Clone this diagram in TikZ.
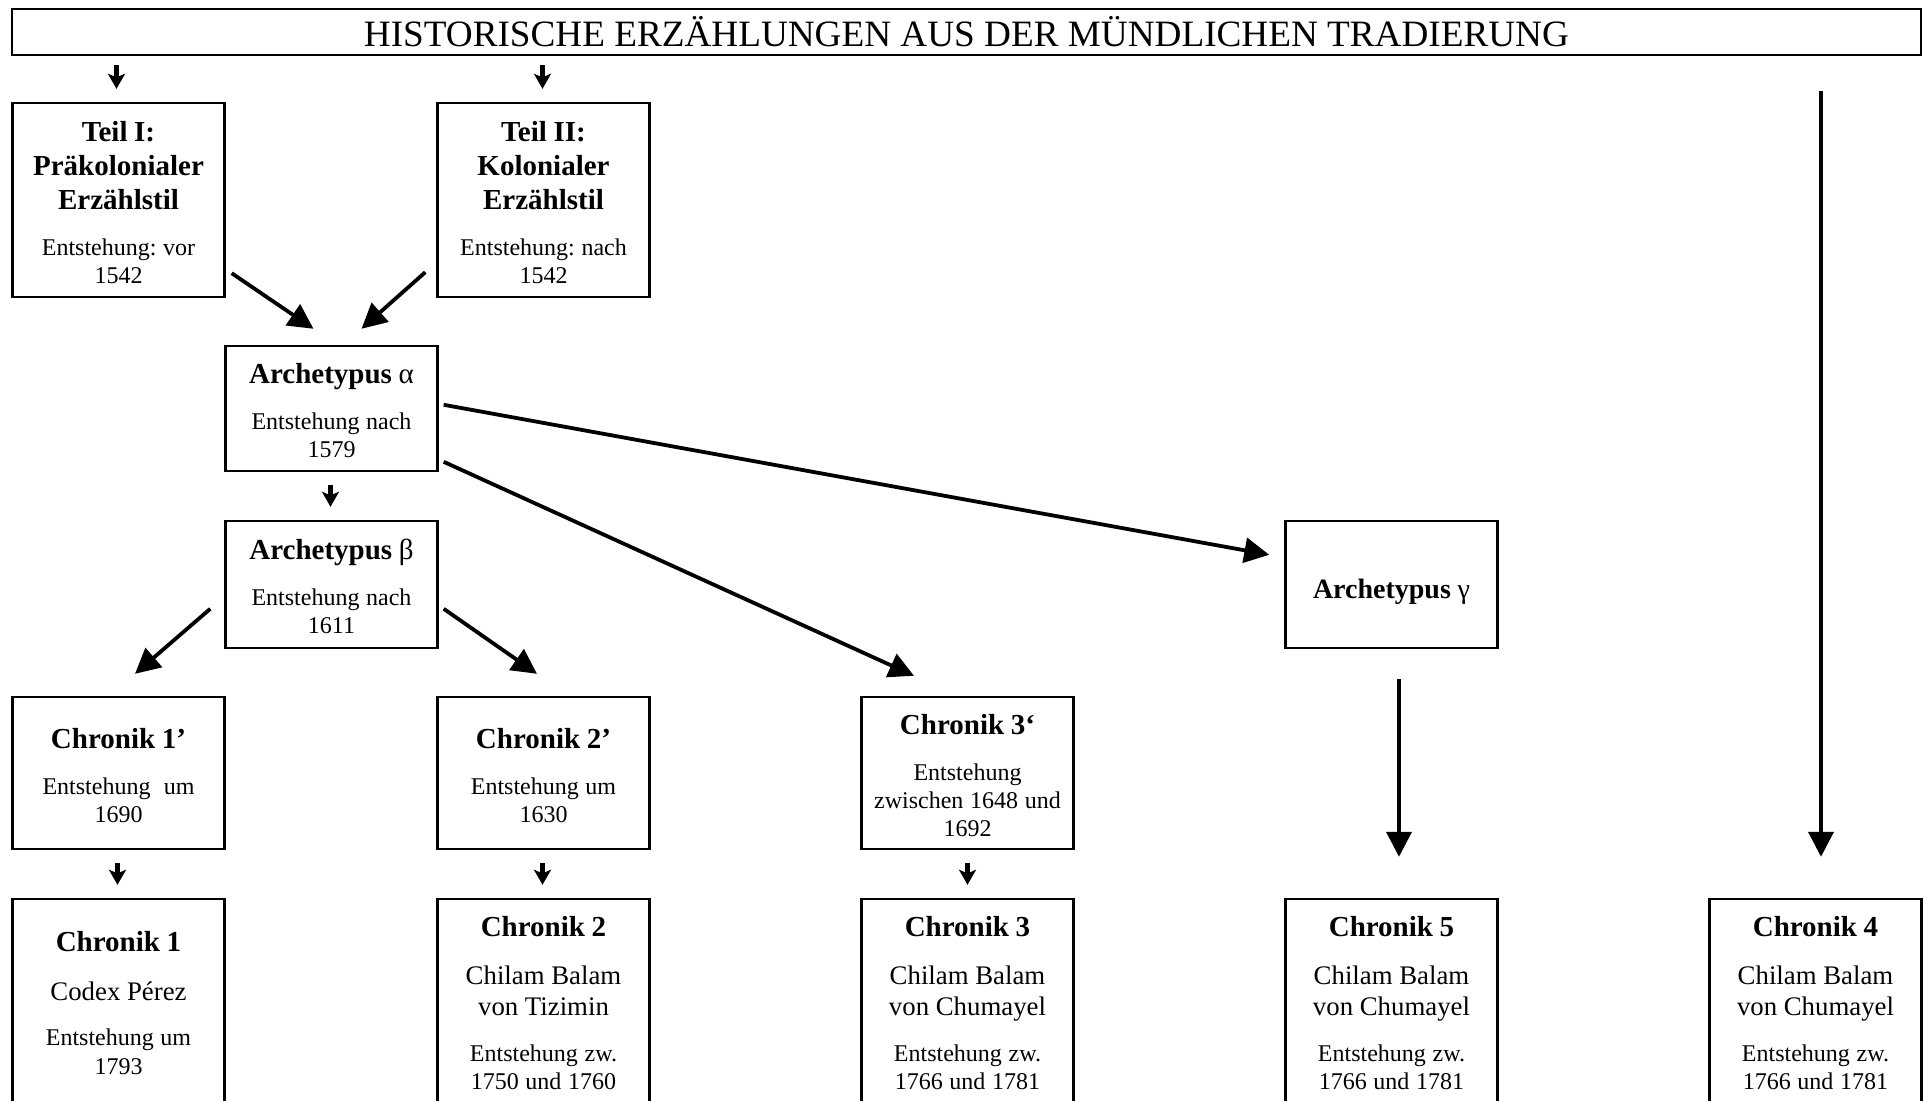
\documentclass[tikz,border=0pt]{standalone}
\usepackage{fontspec}
\setmainfont{Liberation Serif}
\usetikzlibrary{arrows.meta,calc}
\frenchspacing

% type sizes used in the boxes
\newcommand\hd{\fontsize{14.5}{17.2}\selectfont\bfseries}
\newcommand\hdtop{\hd\rule{0pt}{12.6pt}}
\newcommand\bd{\fontsize{12}{14.1}\selectfont\mdseries}
\newcommand\nm{\fontsize{13.4}{15.3}\selectfont\mdseries}
\newcommand\sep{\par\vspace{8.8pt}}

\tikzset{
  box/.style={draw, line width=1.2pt, rectangle, minimum width=106pt,
    text width=100pt, inner sep=0pt, align=center},
  bigarr/.style={line width=1.9pt, -{Triangle[length=12.5pt,width=12.5pt]}},
  smallarr/.style={line width=2.3pt, -{Stealth[length=7.5pt,width=8.5pt,inset=1.8pt]}},
}

\begin{document}
\begin{tikzpicture}[x=0.5pt, y=-0.5pt]
\useasboundingbox (0,0) rectangle (1924,1101);
\clip (0,0) rectangle (1924,1101);

% header
\node[draw, line width=1.2pt, minimum width=954.5pt, minimum height=23pt, inner sep=0pt]
  (title) at (966.5,32) {\fontsize{18.6}{22}\selectfont HISTORISCHE ERZÄHLUNGEN AUS DER MÜNDLICHEN TRADIERUNG};

% first level
\node[box, minimum height=97pt] (teil1) at (118.5,200)
  {\hdtop Teil I:\\Präkolonialer\\Erzählstil\sep\bd Entstehung: vor\\1542\par};
\node[box, minimum height=97pt] (teil2) at (543.5,200)
  {\hdtop Teil II:\\Kolonialer\\Erzählstil\sep\bd Entstehung: nach\\1542\par};

% archetypes
\node[box, minimum height=62.5pt] (alpha) at (331.5,408.5)
  {\hdtop Archetypus {\mdseries α}\sep\bd Entstehung nach\\1579\par};
\node[box, minimum height=63.5pt] (beta) at (331.5,584.5)
  {\hdtop Archetypus {\mdseries β}\sep\bd Entstehung nach\\1611\par};
\node[box, minimum height=63.5pt] (gamma) at (1391.5,584.5)
  {\fontsize{14}{16.8}\selectfont\bfseries\rule{0pt}{17.2pt}Archetypus {\mdseries γ}\par};

% lost chronicles
\node[box, minimum height=76pt] (c1p) at (118.5,773)
  {\hdtop Chronik 1’\sep\bd Entstehung~ um\\1690\par};
\node[box, minimum height=76pt] (c2p) at (543.5,773)
  {\hdtop Chronik 2’\sep\bd Entstehung um\\1630\par};
\node[box, minimum height=76pt] (c3p) at (967.5,773)
  {\hdtop Chronik 3‘\sep\bd Entstehung\\zwischen 1648 und\\1692\par};

% extant chronicles
\node[box, minimum height=104pt] (c1) at (118.5,1003)
  {\hd Chronik 1\sep\nm Codex Pérez\sep\bd Entstehung um\\1793\par};
\node[box, minimum height=104pt] (c2) at (543.5,1003)
  {\hd Chronik 2\sep\nm Chilam Balam\\von Tizimin\sep\bd Entstehung zw.\\1750 und 1760\par};
\node[box, minimum height=104pt] (c3) at (967.5,1003)
  {\hd Chronik 3\sep\nm Chilam Balam\\von Chumayel\sep\bd Entstehung zw.\\1766 und 1781\par};
\node[box, minimum height=104pt] (c5) at (1391.5,1003)
  {\hd Chronik 5\sep\nm Chilam Balam\\von Chumayel\sep\bd Entstehung zw.\\1766 und 1781\par};
\node[box, minimum height=104pt] (c4) at (1815.5,1003)
  {\hd Chronik 4\sep\nm Chilam Balam\\von Chumayel\sep\bd Entstehung zw.\\1766 und 1781\par};

% short vertical arrows
\draw[smallarr] ($(title.south -| teil1.north)+(-2,9)$) -- ($(teil1.north)+(-2,-13)$);
\draw[smallarr] ($(title.south -| teil2.north)+(-1,9)$) -- ($(teil2.north)+(-1,-13)$);
\draw[smallarr] ($(alpha.south)+(-1,13)$) -- ($(beta.north)+(-1,-13)$);
\draw[smallarr] ($(c1p.south)+(-1,13)$) -- ($(c1.north)+(-1,-13)$);
\draw[smallarr] ($(c2p.south)+(-1,13)$) -- ($(c2.north)+(-1,-13)$);
\draw[smallarr] ($(c3p.south)+(0,13)$) -- ($(c3.north)+(0,-13)$);

% diagonal arrows
\draw[bigarr] ($(teil1.south east)+(6,-25)$) -- ($(alpha.north)+(-18,-16)$);
\draw[bigarr] ($(teil2.south west)+(-11,-26)$) -- ($(alpha.north)+(30,-16)$);
\draw[bigarr] ($(alpha.north east)+(5,60)$) -- ($(gamma.north west)+(-15,35)$);
\draw[bigarr] ($(alpha.north east)+(5,117)$) -- ($(c3p.north)+(-53.5,-20)$);
\draw[bigarr] ($(beta.north west)+(-14,89)$) -- ($(c1p.north)+(16.5,-22)$);
\draw[bigarr] ($(beta.north east)+(5,89)$) -- ($(c2p.north)+(-6.5,-22)$);

% long vertical arrows
\draw[bigarr] ($(gamma.south)+(7.5,30)$) -- ($(c5.north)+(7.5,-41)$);
\draw[bigarr] ($(title.south -| c4.north)+(5.5,35)$) -- ($(c4.north)+(5.5,-41)$);
\end{tikzpicture}
\end{document}
